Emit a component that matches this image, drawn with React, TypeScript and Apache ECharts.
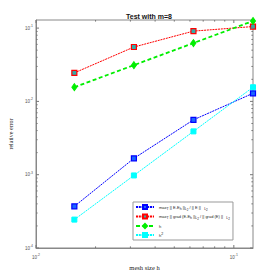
import React, { useEffect, useRef } from "react";
import * as echarts from "echarts";

const meshSizes = [0.015625, 0.03125, 0.0625, 0.125];
const errL2 = [0.00037, 0.00167, 0.0056, 0.0129];
const errGrad = [0.0245, 0.0552, 0.091, 0.105];
const refH = [0.015625, 0.03125, 0.0625, 0.125];
const refH2 = [0.000244, 0.000977, 0.0039, 0.0156];

const xMajorTicks = [0.01, 0.1];
const xMinorTicks = [0.02, 0.03, 0.04, 0.05, 0.06, 0.07, 0.08, 0.09];
const yMajorTicks = [0.0001, 0.001, 0.01, 0.1];
const yMinorTicks = [
  0.0002, 0.0003, 0.0004, 0.0005, 0.0006, 0.0007, 0.0008, 0.0009,
  0.002, 0.003, 0.004, 0.005, 0.006, 0.007, 0.008, 0.009,
  0.02, 0.03, 0.04, 0.05, 0.06, 0.07, 0.08, 0.09,
];

const X_MIN = 0.01;
const X_MAX = 0.125;
const Y_MIN = 0.0001;
const Y_MAX = 0.129;

const legendNames = ["errL2", "errGrad", "h", "h2"];
const legendLabels: Record<string, string> = {
  errL2: "max{s|T} || E-E{s|h} ||{s|L}{ss|2} / || E ||   {s|L}{ss|2}",
  errGrad: "max{s|T} || grad (E-E{s|h} ||{s|L}{ss|2} / || grad (E) ||   {s|L}{ss|2}",
  h: "h",
  h2: "h{p|2}",
};

const TICK = "#777";

function expLabel(v: number): string {
  const e = Math.round(Math.log10(v));
  if (Math.abs(Math.pow(10, e) - v) / v > 1e-6) return "";
  return "10{sup|" + e + "}";
}

export default function App() {
  const ref = useRef<HTMLDivElement>(null);
  useEffect(() => {
    if (!ref.current) return;
    const chart = echarts.init(ref.current, undefined, { renderer: "svg" });
    const pair = (xs: number[], ys: number[]) => xs.map((x, i) => [x, ys[i]]);
    const labelRich = {
      sup: { fontSize: 3.5, color: "#555", padding: [0, 0, 4, 0], fontFamily: "Liberation Sans" },
    };
    const yTickData = [
      ...yMajorTicks.map((v) => [X_MIN, v, 3]),
      ...yMinorTicks.map((v) => [X_MIN, v, 1.6]),
    ];
    const xTickData = [
      ...xMajorTicks.map((v) => [v, Y_MIN, 3]),
      ...xMinorTicks.map((v) => [v, Y_MIN, 1.6]),
    ];
    chart.setOption({
      animation: false,
      backgroundColor: "#fff",
      title: {
        text: "Test with m=8",
        left: 144,
        top: 8,
        textAlign: "center",
        textStyle: { fontSize: 7, fontWeight: "bold", color: "#111", fontFamily: "Liberation Sans" },
      },
      grid: {
        left: 36,
        right: 27,
        top: 20,
        bottom: 32,
        show: true,
        borderColor: "#888",
        borderWidth: 1,
        backgroundColor: "#fff",
      },
      xAxis: {
        type: "log",
        logBase: 10,
        min: X_MIN,
        max: X_MAX,
        name: "mesh size h",
        nameLocation: "middle",
        nameGap: 16,
        nameTextStyle: { fontSize: 6.5, color: "#222", fontFamily: "Liberation Serif" },
        axisLine: { show: true, lineStyle: { color: "#888" } },
        axisTick: { show: false },
        splitLine: { show: false },
        axisLabel: {
          formatter: expLabel,
          fontSize: 4.5,
          color: "#555",
          margin: 5,
          fontFamily: "Liberation Sans",
          rich: labelRich,
        },
      },
      yAxis: {
        type: "log",
        logBase: 10,
        min: Y_MIN,
        max: Y_MAX,
        name: "relative error",
        nameLocation: "middle",
        nameGap: 18,
        nameTextStyle: { fontSize: 6, color: "#222", fontFamily: "Liberation Serif" },
        axisLine: { show: true, lineStyle: { color: "#888" } },
        axisTick: { show: false },
        splitLine: { show: false },
        axisLabel: {
          formatter: expLabel,
          fontSize: 4.5,
          color: "#555",
          margin: 3,
          fontFamily: "Liberation Sans",
          rich: labelRich,
        },
      },
      legend: {
        data: legendNames,
        orient: "vertical",
        left: 133,
        top: 202,
        itemWidth: 18,
        itemHeight: 5,
        itemGap: 2.5,
        padding: [2, 3, 2, 2],
        borderColor: "#999",
        borderWidth: 1,
        backgroundColor: "#fff",
        formatter: (name: string) => legendLabels[name],
        textStyle: {
          fontSize: 4,
          color: "#222",
          fontFamily: "Liberation Sans",
          rich: {
            s: { fontSize: 3.5, padding: [3, 0, 0, 0], fontFamily: "Liberation Sans", color: "#222" },
            ss: { fontSize: 3, padding: [5, 0, 0, 0], fontFamily: "Liberation Sans", color: "#222" },
            p: { fontSize: 3.5, padding: [0, 0, 3, 0], fontFamily: "Liberation Sans", color: "#222" },
          },
        },
      },
      series: [
        {
          name: "errL2",
          type: "line",
          data: pair(meshSizes, errL2),
          symbol: "rect",
          symbolSize: 5,
          lineStyle: { color: "#0000ff", width: 1, type: [2, 0.8] },
          itemStyle: { color: "#1a66ff", borderColor: "#0000ff", borderWidth: 1.2 },
          z: 3,
        },
        {
          name: "errGrad",
          type: "line",
          data: pair(meshSizes, errGrad),
          symbol: "rect",
          symbolSize: 5,
          lineStyle: { color: "#ff0000", width: 1, type: [2, 0.8] },
          itemStyle: { color: "#33aaaa", borderColor: "#ff0000", borderWidth: 1.2 },
          z: 3,
        },
        {
          name: "h",
          type: "line",
          data: pair(meshSizes, refH),
          symbol: "diamond",
          symbolSize: [5, 7],
          lineStyle: { color: "#00ee00", width: 1.8, type: [4, 2.5] },
          itemStyle: { color: "#00ee00", borderColor: "#00ee00", borderWidth: 1 },
          z: 3,
        },
        {
          name: "h2",
          type: "line",
          data: pair(meshSizes, refH2),
          symbol: "rect",
          symbolSize: 5,
          lineStyle: { color: "#00ffff", width: 1, type: [2, 0.8] },
          itemStyle: { color: "#00ffff", borderColor: "#00ffff", borderWidth: 1 },
          z: 3,
        },
        {
          type: "custom",
          silent: true,
          z: 4,
          data: yTickData,
          renderItem: (params: any, api: any) => {
            const cs = params.coordSys;
            const p = api.coord([api.value(0), api.value(1)]);
            const len = api.value(2);
            const style = { stroke: TICK, lineWidth: 1 };
            return {
              type: "group",
              children: [
                { type: "line", shape: { x1: cs.x, y1: p[1], x2: cs.x + len, y2: p[1] }, style },
                { type: "line", shape: { x1: cs.x + cs.width, y1: p[1], x2: cs.x + cs.width - len, y2: p[1] }, style },
              ],
            };
          },
        },
        {
          type: "custom",
          silent: true,
          z: 4,
          data: xTickData,
          renderItem: (params: any, api: any) => {
            const cs = params.coordSys;
            const p = api.coord([api.value(0), api.value(1)]);
            const len = api.value(2);
            const style = { stroke: TICK, lineWidth: 1 };
            return {
              type: "group",
              children: [
                { type: "line", shape: { x1: p[0], y1: cs.y + cs.height, x2: p[0], y2: cs.y + cs.height - len }, style },
                { type: "line", shape: { x1: p[0], y1: cs.y, x2: p[0], y2: cs.y + len }, style },
              ],
            };
          },
        },
      ],
    });
    return () => chart.dispose();
  }, []);
  return <div ref={ref} style={{ width: 280, height: 280, position: "absolute", left: 0, top: 0 }} />;
}
